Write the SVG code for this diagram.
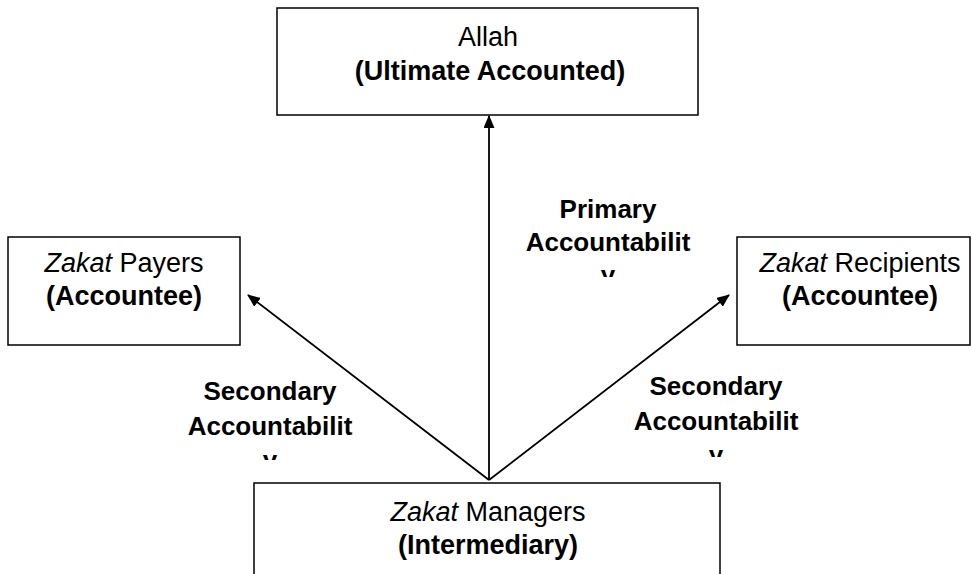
<svg xmlns="http://www.w3.org/2000/svg" width="972" height="574" viewBox="0 0 972 574">
<defs>
<style>
.box{fill:#fff;stroke:#000;stroke-width:1.5}
.t{font-family:"Liberation Sans",Arial,sans-serif;font-size:27px;fill:#000;text-anchor:middle}
.l{font-size:26px}
.b{font-weight:bold}
.i{font-style:italic}
.ln{stroke:#000;stroke-width:1.8;fill:none;marker-end:url(#ah)}
</style>
<marker id="ah" viewBox="0 0 13 11" refX="12" refY="5.5" markerWidth="13" markerHeight="11" markerUnits="userSpaceOnUse" orient="auto">
<path d="M0,0 L13,5.5 L0,11 Z" fill="#000"/>
</marker>
<clipPath id="cp1"><rect x="500" y="180" width="220" height="97"/></clipPath>
<clipPath id="cp2"><rect x="170" y="370" width="200" height="90"/></clipPath>
<clipPath id="cp3"><rect x="620" y="365" width="200" height="92"/></clipPath>
</defs>
<rect width="972" height="574" fill="#fff"/>
<g id="connectors">
<line class="ln" x1="489" y1="480" x2="489" y2="116"/>
<line class="ln" x1="489" y1="480" x2="248" y2="295"/>
<line class="ln" x1="489" y1="480" x2="729" y2="295"/>
</g>
<g id="allah">
<rect class="box" x="277" y="8" width="421" height="107"/>
<text class="t" x="488" y="46">Allah</text>
<text class="t b" x="490" y="80">(Ultimate Accounted)</text>
</g>
<g id="payers">
<rect class="box" x="8" y="237" width="232" height="108"/>
<text class="t" x="124" y="272"><tspan class="i">Zakat</tspan> Payers</text>
<text class="t b" x="124" y="305">(Accountee)</text>
</g>
<g id="recipients">
<rect class="box" x="737" y="237" width="233" height="108"/>
<text class="t" x="860" y="272"><tspan class="i">Zakat</tspan> Recipients</text>
<text class="t b" x="860" y="305">(Accountee)</text>
</g>
<g id="managers">
<rect class="box" x="254" y="483" width="466" height="100"/>
<text class="t" x="488" y="521"><tspan class="i">Zakat</tspan> Managers</text>
<text class="t b" x="488" y="554">(Intermediary)</text>
</g>
<g id="label-primary" clip-path="url(#cp1)">
<text class="t l b" x="608" y="218">Primary</text>
<text class="t l b" x="608" y="251">Accountabilit</text>
<text class="t l b" x="608" y="284">y</text>
</g>
<g id="label-secondary-left" clip-path="url(#cp2)">
<text class="t l b" x="270" y="400">Secondary</text>
<text class="t l b" x="270" y="435">Accountabilit</text>
<text class="t l b" x="270" y="469">y</text>
</g>
<g id="label-secondary-right" clip-path="url(#cp3)">
<text class="t l b" x="716" y="395">Secondary</text>
<text class="t l b" x="716" y="430">Accountabilit</text>
<text class="t l b" x="716" y="464">y</text>
</g>
</svg>
